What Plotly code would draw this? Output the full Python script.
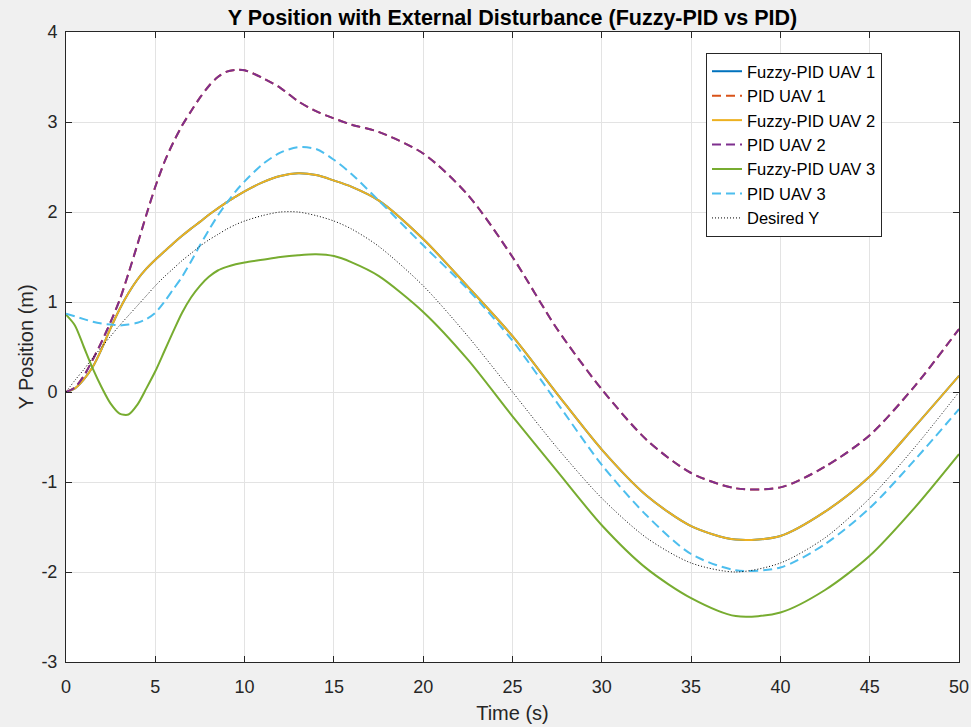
import plotly.graph_objects as go

# Time samples (s)
time_s = [0, 0.5, 1, 1.5, 2, 2.5, 3, 3.5, 4, 4.5, 5, 5.5, 6, 6.5, 7, 7.5, 8, 8.5, 9, 9.5, 10,
          11, 12, 13, 14, 15, 16, 17.5, 20, 22.5, 25, 27.5, 30, 32.5, 35, 37.5, 40, 42.5, 45, 47.5, 50]

# Y position (m)
fuzzy_uav2 = [0, 0.04, 0.14, 0.28, 0.48, 0.71, 0.92, 1.10, 1.25, 1.37, 1.47, 1.56, 1.65, 1.735, 1.815,
              1.89, 1.97, 2.04, 2.11, 2.17, 2.23,
              2.33, 2.40, 2.43, 2.41, 2.35, 2.28, 2.13, 1.70, 1.17, 0.62, -0.02, -0.64, -1.15,
              -1.49, -1.64, -1.60, -1.33, -0.94, -0.39, 0.18]
pid_uav2 = [0, 0.05, 0.18, 0.36, 0.56, 0.78, 1.02, 1.32, 1.64, 1.97, 2.28, 2.55, 2.77, 2.96, 3.12,
            3.27, 3.40, 3.50, 3.56, 3.58, 3.575,
            3.49, 3.38, 3.23, 3.12, 3.04, 2.97, 2.89, 2.65, 2.19, 1.50, 0.70, 0.03, -0.53,
            -0.90, -1.07, -1.06, -0.83, -0.48, 0.06, 0.70]
# UAV 1 curves coincide with UAV 2 curves (hidden underneath)
fuzzy_uav1 = list(fuzzy_uav2)
pid_uav1 = list(pid_uav2)
fuzzy_uav3 = [0.86, 0.74, 0.50, 0.26, 0.05, -0.13, -0.24, -0.25, -0.14, 0.04, 0.23, 0.45, 0.67, 0.88,
              1.05, 1.18, 1.28, 1.35, 1.39, 1.42, 1.44,
              1.47, 1.50, 1.52, 1.53, 1.51, 1.44, 1.29, 0.89, 0.36, -0.27, -0.88, -1.48,
              -1.96, -2.29, -2.49, -2.45, -2.20, -1.82, -1.29, -0.69]
pid_uav3 = [0.87, 0.84, 0.81, 0.78, 0.76, 0.75, 0.74, 0.75, 0.77, 0.81, 0.88, 1.00, 1.14, 1.28, 1.45,
            1.63, 1.80, 1.96, 2.10, 2.23, 2.34,
            2.53, 2.66, 2.72, 2.70, 2.58, 2.42, 2.13, 1.63, 1.14, 0.57, -0.12, -0.81, -1.37,
            -1.80, -1.98, -1.95, -1.69, -1.29, -0.76, -0.19]
desired_y = [0, 0.13, 0.25, 0.38, 0.50, 0.62, 0.74, 0.85, 0.96, 1.07, 1.18, 1.28, 1.37, 1.46, 1.54,
             1.62, 1.69, 1.75, 1.81, 1.86, 1.90,
             1.96, 2.00, 2.00, 1.96, 1.90, 1.81, 1.62, 1.18, 0.62, 0, -0.62, -1.18, -1.62,
             -1.90, -2.00, -1.90, -1.62, -1.18, -0.62, 0]

x_ticks = [0, 5, 10, 15, 20, 25, 30, 35, 40, 45, 50]
y_ticks = [-3, -2, -1, 0, 1, 2, 3, 4]
y_tick_labels = ["-3", "-2", "-1", "0", "1", "2", "3", "4"]

FONT = "Liberation Sans, Arial, Helvetica, sans-serif"
DASH = "9px,5px"

series = [
    ("Fuzzy-PID UAV 1", fuzzy_uav1, "#0072BD", "solid", 2),
    ("PID UAV 1", pid_uav1, "#D95319", DASH, 2),
    ("Fuzzy-PID UAV 2", fuzzy_uav2, "#EDB120", "solid", 2),
    ("PID UAV 2", pid_uav2, "#7E2F8E", DASH, 2),
    ("Fuzzy-PID UAV 3", fuzzy_uav3, "#77AC30", "solid", 2),
    ("PID UAV 3", pid_uav3, "#4DBEEE", DASH, 2),
    ("Desired Y", desired_y, "#000000", "1px,2px", 1),
]

fig = go.Figure()
for name, ys, color, dash, w in series:
    fig.add_trace(go.Scatter(
        x=time_s, y=ys, name=name, mode="lines",
        line=dict(color=color, dash=dash, width=w, shape="spline", smoothing=0.8),
    ))

axis_common = dict(
    showline=True, linecolor="#262626", linewidth=1, mirror="ticks",
    ticks="inside", ticklen=6, tickcolor="#262626",
    showgrid=True, gridcolor="#e3e3e3", gridwidth=1,
    zeroline=False, automargin=False,
    tickfont=dict(family=FONT, size=18, color="#262626"),
)

fig.update_layout(
    width=971, height=727,
    paper_bgcolor="#f0f0f0", plot_bgcolor="#ffffff",
    margin=dict(l=66, r=12, t=32, b=65, autoexpand=False),
    title=dict(text="<b>Y Position with External Disturbance (Fuzzy-PID vs PID)</b>",
               x=(66 + 959) / 2 / 971, xanchor="center", y=1 - 17 / 727, yanchor="middle",
               font=dict(family=FONT, size=21.5, color="#000000"), automargin=False),
    xaxis=dict(range=[0, 50], tickvals=x_ticks, ticklabelstandoff=8,
               title=dict(text="Time (s)", font=dict(family=FONT, size=20, color="#262626"),
                          standoff=10),
               **axis_common),
    yaxis=dict(range=[-3, 4], tickvals=y_ticks, ticktext=y_tick_labels, ticklabelstandoff=4,
               title=dict(text="Y Position (m)", font=dict(family=FONT, size=20, color="#262626"),
                          standoff=2),
               **axis_common),
    legend=dict(x=(706 - 66) / 893, y=(662 - 53) / 630, xanchor="left", yanchor="top",
                bgcolor="#ffffff", bordercolor="#262626", borderwidth=1,
                font=dict(family=FONT, size=16.5, color="#000000"),
                tracegroupgap=0, itemwidth=30),
    showlegend=True,
)

fig.write_html(
    "out.html",
    config={"displayModeBar": False},
    post_script="document.body.style.margin='0';document.body.style.padding='0';"
                "document.documentElement.style.background='#f0f0f0';",
)
